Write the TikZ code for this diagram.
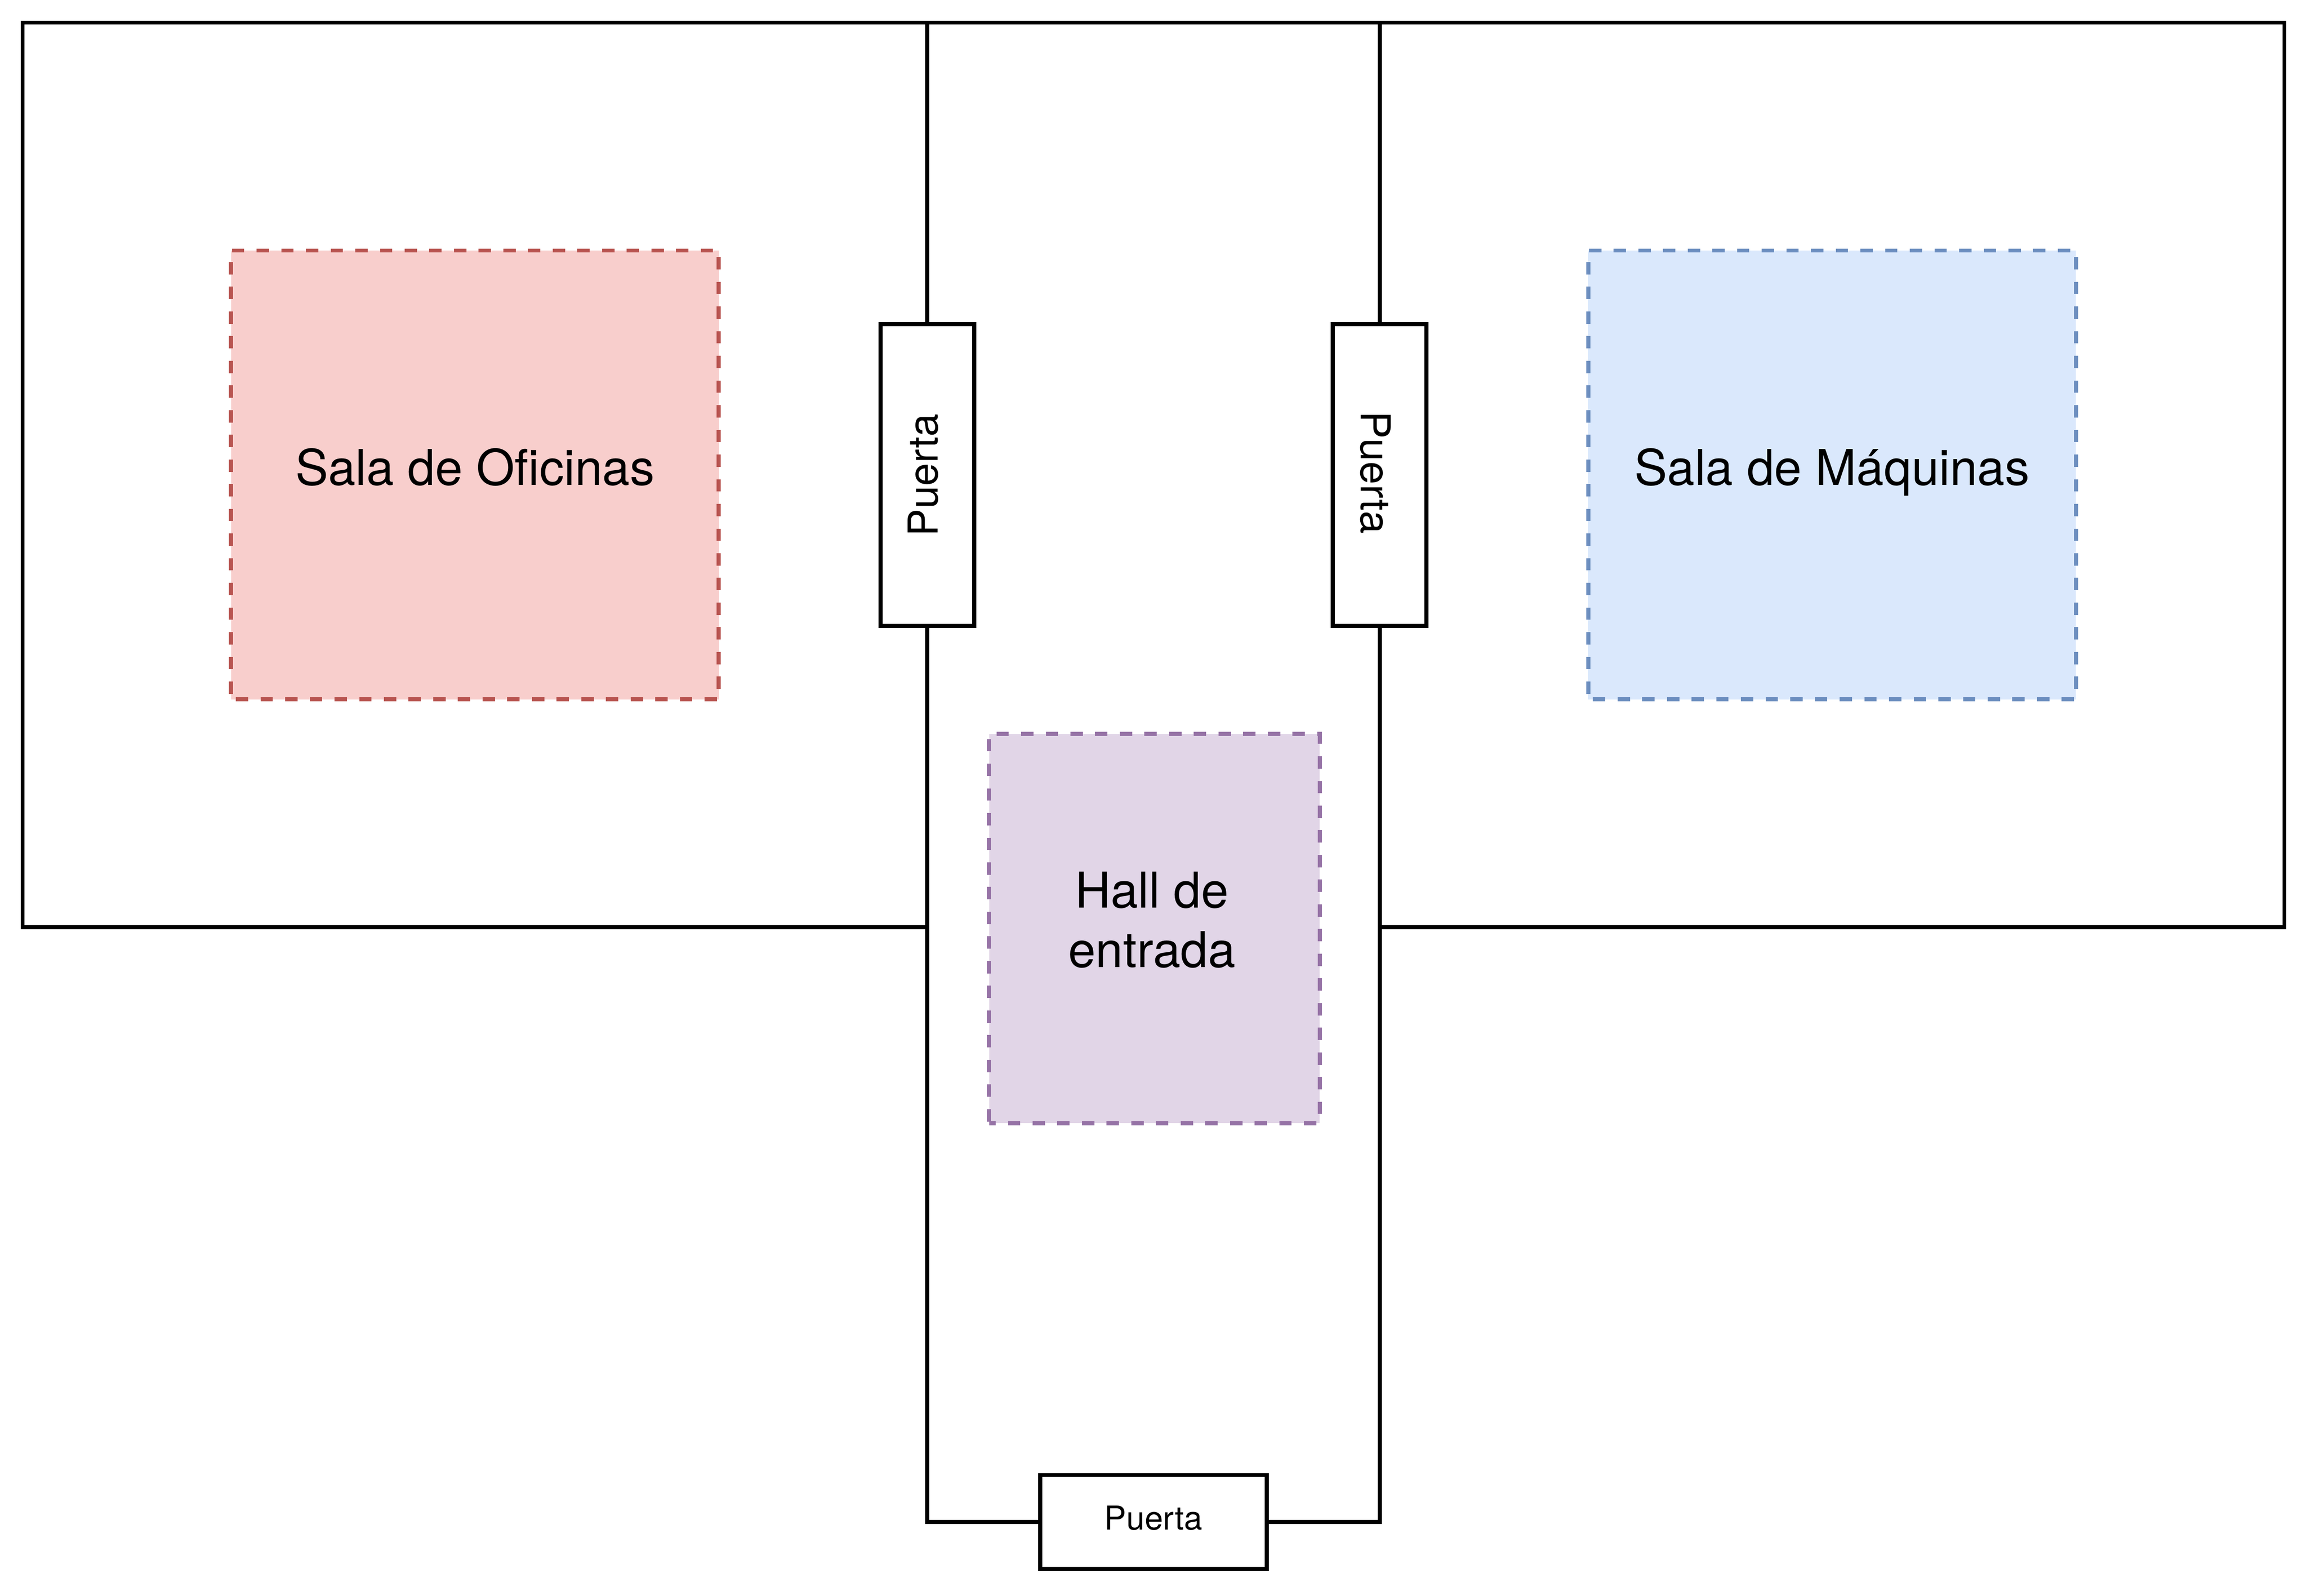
\documentclass[tikz,border=0pt]{standalone}
\usepackage{fontspec}
\setmainfont{TeX Gyre Heros}
\definecolor{rojofondo}{HTML}{F8CECC}
\definecolor{rojoborde}{HTML}{B85450}
\definecolor{azulfondo}{HTML}{DAE8FC}
\definecolor{azulborde}{HTML}{6C8EBF}
\definecolor{lilafondo}{HTML}{E1D5E7}
\definecolor{lilaborde}{HTML}{9673A6}
\begin{document}
\begin{tikzpicture}[x=1pt,y=-1pt]

      % Walls are plain rectangles, doors sit on top of them with a white fill
      \tikzstyle{muro}=[draw,line width=2pt,inner sep=0pt,outer sep=0pt,minimum width=440pt,minimum height=440pt]
      \tikzstyle{puerta}=[draw,fill=white,line width=2pt,inner sep=0pt,outer sep=0pt]
      \tikzstyle{sala}=[line width=2pt,dash pattern=on 6pt off 6pt,inner sep=0pt,outer sep=0pt,font=\fontsize{24}{28.8}\selectfont]

      \def\anchop{45.6pt}     % Short side of a door
      \def\largop{146.8pt}    % Long side of the two doors between rooms

      \useasboundingbox (0,0) rectangle (1122,776);

      \node [muro] (oficinas) at (231,231) {};
      \node [muro] (maquinas) at (891,231) {};
      \draw [line width=2pt] (oficinas.north east) -- (maquinas.north west);

      % Doors; the text offset differs a little from door to door
      \node [puerta,rotate=90,minimum width=\largop,minimum height=\anchop,font=\fontsize{20}{24}\selectfont,text height=15pt,text depth=5pt] (puertaoficinas) at (451,231) {Puerta};
      \node [puerta,rotate=-90,minimum width=\largop,minimum height=\anchop,font=\fontsize{20}{24}\selectfont,text height=20pt,text depth=1.6pt] (puertamaquinas) at (671,231) {Puerta\hspace*{2.4pt}};
      \node [puerta,minimum width=110pt,minimum height=\anchop,font=\fontsize{16}{19.2}\selectfont,text height=10pt,text depth=2.4pt] (puertaentrada) at (561,740.2) {Puerta};

      \draw [line width=2pt] (puertaoficinas.west) |- (puertaentrada.west);
      \draw [line width=2pt] (puertamaquinas.east) |- (puertaentrada.east);

      % Coloured rooms, dash phase makes the dashes start at the top left corner
      \node [sala,draw=rojoborde,fill=rojofondo,minimum width=237.2pt,minimum height=218.3pt,dash phase=9.7pt,text height=16pt,text depth=6pt] (salaoficinas) at (231,231) {Sala de Oficinas};
      \node [sala,draw=azulborde,fill=azulfondo,minimum width=237.2pt,minimum height=218.3pt,dash phase=9.7pt,text height=16pt,text depth=6pt] (salamaquinas) at (891,231) {Sala de Máquinas};
      \node [sala,draw=lilaborde,fill=lilafondo,minimum width=160.8pt,minimum height=189.2pt,dash phase=2.8pt,align=center,text height=40pt,text depth=2.4pt] (hall) at (561.4,451.6) {Hall de\hspace*{2.4pt}\\entrada\hspace*{2.4pt}};

\end{tikzpicture}
\end{document}
